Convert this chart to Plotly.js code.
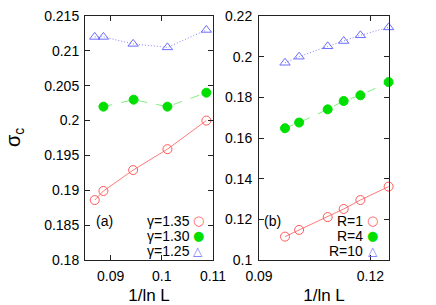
<!DOCTYPE html>
<html>
<head>
<meta charset="utf-8">
<script src="https://cdn.plot.ly/plotly-3.0.1.min.js"></script>
<style>html,body{margin:0;padding:0;background:#fff;}#chart{width:436px;height:305px;}</style>
</head>
<body>
<div id="chart"></div>
<script>
// Panel (a): sigma_c vs 1/ln L for different gamma
const xA = [0.0869, 0.0886, 0.0944, 0.1011, 0.1087];
const xA_g130 = [0.0886, 0.0945, 0.1011, 0.1087];
const g135 = [0.1886, 0.1899, 0.1929, 0.1959, 0.2000];
const g130 = [0.2020, 0.2030, 0.2020, 0.2040];
const g125 = [0.2120, 0.2120, 0.2110, 0.2105, 0.2130];
const labelsA = ["γ=1.35", "γ=1.30", "γ=1.25"];

// Panel (b): sigma_c vs 1/ln L for different R
const xB = [0.0970, 0.1008, 0.1085, 0.1128, 0.1173, 0.1249];
const r1 = [0.1115, 0.1148, 0.1211, 0.1251, 0.1295, 0.1361];
const r4 = [0.1648, 0.1676, 0.1741, 0.1782, 0.1810, 0.1875];
const r10 = [0.1970, 0.2000, 0.2051, 0.2077, 0.2105, 0.2144];
const labelsB = ["R=1", "R=4", "R=10"];

const yTicksA = [0.18, 0.185, 0.19, 0.195, 0.2, 0.205, 0.21, 0.215];
const yTickTextA = ["0.18", "0.185", "0.19", "0.195", "0.2", "0.205", "0.21", "0.215"];
const xTicksA = [0.09, 0.1, 0.11];
const xTickTextA = ["0.09", "0.1", "0.11"];
const yTicksB = [0.1, 0.12, 0.14, 0.16, 0.18, 0.2, 0.22];
const yTickTextB = ["0.1", "0.12", "0.14", "0.16", "0.18", "0.2", "0.22"];
const xTicksB = [0.09, 0.12];
const xTickTextB = ["0.09", "0.12"];

const RED = '#ff5a5a', GREEN = '#00e000', BLUE = '#6c6cff';
const REDL = '#ff7a7a', GREENL = '#7fef7f', BLUEL = '#8585ff';

function series(x, y, xa, ya, color, lcolor, dash, symbol, size) {
  return {
    x: x, y: y, xaxis: xa, yaxis: ya, type: 'scatter', mode: 'lines+markers',
    cliponaxis: false, showlegend: false, hoverinfo: 'skip',
    line: {color: lcolor, width: 1, dash: dash},
    marker: {symbol: symbol, size: size, color: color, line: {color: color, width: 1}}
  };
}

const data = [
  series(xA, g135, 'x', 'y', RED, REDL, 'solid', 'circle-open', 9),
  series(xA_g130, g130, 'x', 'y', GREEN, GREENL, 'dash', 'circle', 9),
  series(xA, g125, 'x', 'y', BLUE, BLUEL, '1px,2px', 'triangle-up-open', 9),
  series(xB, r1, 'x2', 'y2', RED, REDL, 'solid', 'circle-open', 9),
  series(xB, r4, 'x2', 'y2', GREEN, GREENL, 'dash', 'circle', 9),
  series(xB, r10, 'x2', 'y2', BLUE, BLUEL, '1px,2px', 'triangle-up-open', 9)
];

const FONT = {family: 'Liberation Sans, Arial, sans-serif', size: 14, color: '#000'};
const axisBase = {
  showgrid: false, zeroline: false, showline: true, mirror: 'allticks',
  linecolor: '#222', linewidth: 1, ticks: 'inside', ticklen: 5, tickcolor: '#222',
  tickfont: FONT, tickmode: 'array', fixedrange: true
};

function py(p) { return 1 - (p - 16) / 244; }
function px(p) { return p / 436; }

const annotations = [];
function legendRows(labels, textRight, glyphX, rows) {
  const glyphs = ['○', '●', '△'];
  const cols = [RED, GREEN, BLUE];
  const sizes = [13, 13, 12];
  labels.forEach((t, i) => {
    annotations.push({xref: 'paper', yref: 'paper', x: px(textRight), y: py(rows[i]),
      xanchor: 'right', yanchor: 'middle', text: t, showarrow: false, font: FONT, borderpad: 0});
    annotations.push({xref: 'paper', yref: 'paper', x: px(glyphX), y: py(rows[i]),
      xanchor: 'center', yanchor: 'middle', text: glyphs[i], showarrow: false, borderpad: 0,
      font: {family: 'DejaVu Sans', size: sizes[i], color: cols[i]}});
  });
}
legendRows(labelsA, 191, 198, [220.5, 235.5, 250.5]);
legendRows(labelsB, 364, 372.5, [220.5, 235.5, 250.5]);
annotations.push({xref: 'paper', yref: 'paper', x: px(104), y: py(220.5), text: '(a)',
  showarrow: false, font: FONT, xanchor: 'center', yanchor: 'middle'});
annotations.push({xref: 'paper', yref: 'paper', x: px(272), y: py(221), text: '(b)',
  showarrow: false, font: FONT, xanchor: 'center', yanchor: 'middle'});
annotations.push({xref: 'paper', yref: 'paper', x: px(14), y: 0.5, text: 'σ<sub>c</sub>',
  textangle: -90, showarrow: false, font: {family: 'Liberation Sans, Arial, sans-serif', size: 20, color: '#000'},
  xanchor: 'center', yanchor: 'middle'});

const TITLEFONT = {family: FONT.family, size: 17, color: '#000'};
const layout = {
  width: 436, height: 305,
  margin: {l: 0, r: 0, t: 16, b: 45},
  paper_bgcolor: '#fff', plot_bgcolor: '#fff',
  showlegend: false,
  xaxis: Object.assign({}, axisBase, {domain: [px(85), px(213)], range: [0.085, 0.11],
    tickvals: xTicksA, ticktext: xTickTextA, anchor: 'y', ticklabelstandoff: 3,
    title: {text: '1/ln L', font: TITLEFONT, standoff: 9}}),
  yaxis: Object.assign({}, axisBase, {domain: [0, 1], range: [0.18, 0.215],
    tickvals: yTicksA, ticktext: yTickTextA, anchor: 'x', ticklabelstandoff: 2}),
  xaxis2: Object.assign({}, axisBase, {domain: [px(259), px(389)], range: [0.09, 0.125],
    tickvals: xTicksB, ticktext: xTickTextB, anchor: 'y2', ticklabelstandoff: 3,
    title: {text: '1/ln L', font: TITLEFONT, standoff: 9}}),
  yaxis2: Object.assign({}, axisBase, {domain: [0, 1], range: [0.1, 0.22],
    tickvals: yTicksB, ticktext: yTickTextB, anchor: 'x2', ticklabelstandoff: 3}),
  annotations: annotations
};

Plotly.newPlot('chart', data, layout, {staticPlot: true, displayModeBar: false});
</script>
</body>
</html>
